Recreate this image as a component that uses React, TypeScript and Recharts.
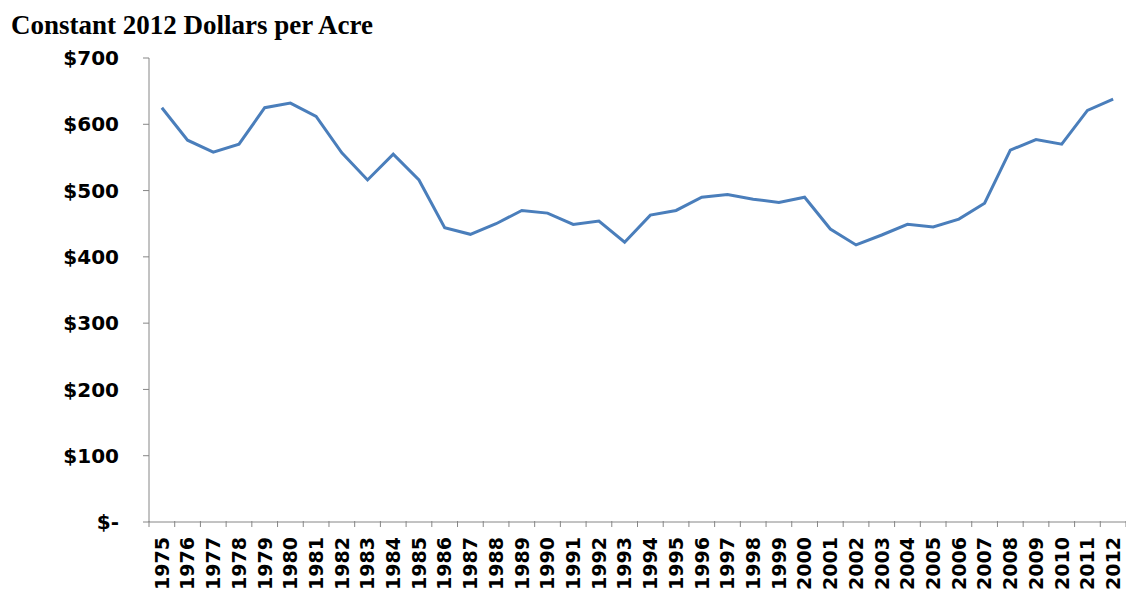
import { LineChart, Line, XAxis, YAxis } from 'recharts';

const years = [
  '1975', '1976', '1977', '1978', '1979', '1980', '1981', '1982', '1983', '1984',
  '1985', '1986', '1987', '1988', '1989', '1990', '1991', '1992', '1993', '1994',
  '1995', '1996', '1997', '1998', '1999', '2000', '2001', '2002', '2003', '2004',
  '2005', '2006', '2007', '2008', '2009', '2010', '2011', '2012',
];

const dollarsPerAcre = [
  625, 576, 558, 570, 625, 632, 612, 557, 516, 555,
  516, 444, 434, 450, 470, 466, 449, 454, 422, 463,
  470, 490, 494, 487, 482, 490, 442, 418, 433, 449,
  445, 457, 481, 561, 577, 570, 621, 638,
];

const yTicks = [0, 100, 200, 300, 400, 500, 600, 700];

const data = years.map((year, i) => ({ year, value: dollarsPerAcre[i] }));

const CHART_W = 1126;
const CHART_H = 592;
const Y_AXIS_W = 149;
const AXIS_COLOR = '#868686';
const LINE_COLOR = '#4A7EBB';
const TICK_FONT = '"DejaVu Sans", sans-serif';

// bottom axis: rotated year labels, tick marks sit between categories
function YearTick(props: any) {
  const { x, y, payload, index } = props;
  const step = (CHART_W - Y_AXIS_W) / years.length;
  const axisY = y - 16;
  const isLast = index === years.length - 1;
  return (
    <g>
      <line x1={x - step / 2} y1={axisY} x2={x - step / 2} y2={axisY + 6} stroke={AXIS_COLOR} />
      {isLast && (
        <line x1={x + step / 2} y1={axisY} x2={x + step / 2} y2={axisY + 6} stroke={AXIS_COLOR} />
      )}
      <text
        x={x}
        y={y}
        dy="0.36em"
        transform={`rotate(-90, ${x}, ${y})`}
        textAnchor="end"
        fontFamily={TICK_FONT}
        fontWeight="bold"
        fontSize={19}
        fill="#000"
      >
        {payload.value}
      </text>
    </g>
  );
}

const formatDollar = (v: number) => (v === 0 ? '$-' : `$${v}`);

export default function App() {
  return (
    <div style={{ position: 'absolute', left: 0, top: 0, width: CHART_W, height: CHART_H, background: '#fff' }}>
      <div
        style={{
          position: 'absolute',
          left: 11,
          top: 12,
          fontFamily: '"Liberation Serif", "Times New Roman", serif',
          fontWeight: 'bold',
          fontSize: 27,
          lineHeight: '27px',
          color: '#000',
          whiteSpace: 'nowrap',
        }}
      >
        Constant 2012 Dollars per Acre
      </div>
      <LineChart width={CHART_W} height={CHART_H} data={data} margin={{ top: 58, right: 0, left: 0, bottom: 0 }}>
        <XAxis
          dataKey="year"
          scale="band"
          height={70}
          interval={0}
          stroke={AXIS_COLOR}
          tickLine={false}
          tickSize={6}
          tickMargin={9}
          tick={<YearTick />}
        />
        <YAxis
          width={Y_AXIS_W}
          domain={[0, 700]}
          ticks={yTicks}
          interval={0}
          stroke={AXIS_COLOR}
          tickSize={6}
          tickMargin={24}
          tickFormatter={formatDollar}
          tick={{ fill: '#000', fontFamily: TICK_FONT, fontWeight: 'bold', fontSize: 20 }}
        />
        <Line
          type="linear"
          dataKey="value"
          stroke={LINE_COLOR}
          strokeWidth={3}
          dot={false}
          isAnimationActive={false}
        />
      </LineChart>
    </div>
  );
}
